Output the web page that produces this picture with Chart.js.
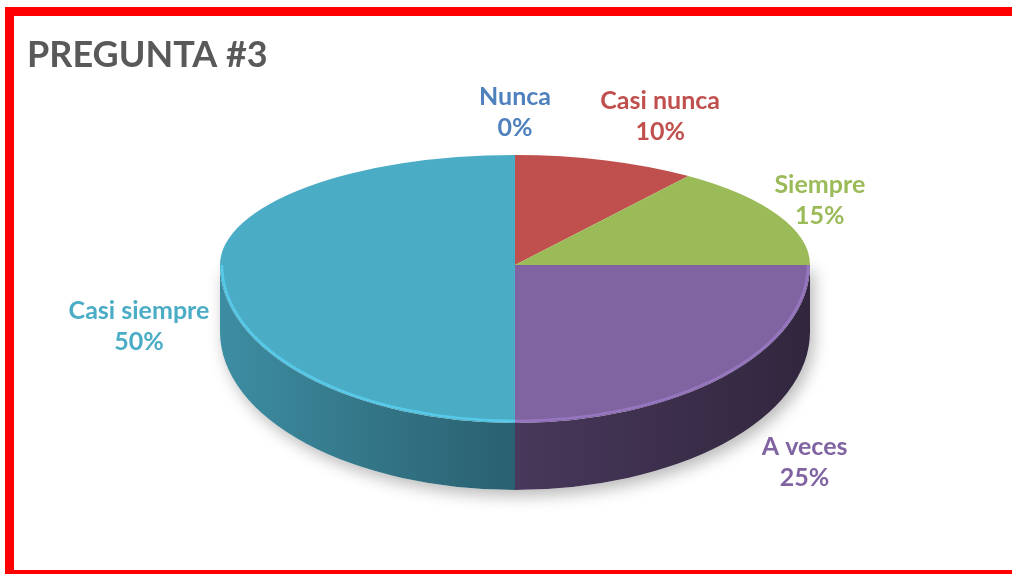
<!DOCTYPE html>
<html>
<head>
<meta charset="utf-8">
<script src="https://cdn.jsdelivr.net/npm/chart.js@4.4.1/dist/chart.umd.min.js"></script>
<style>
  html, body { margin: 0; padding: 0; background: #fff; overflow: hidden; }
  canvas { display: block; }
</style>
</head>
<body>
<canvas id="pregunta3" width="1012" height="574"></canvas>
<script>
const chartTitle = 'PREGUNTA #3';
const categories = ['Nunca', 'Casi nunca', 'Siempre', 'A veces', 'Casi siempre'];
const percentages = [0, 10, 15, 25, 50];
const sliceColors = ['#4F81BD', '#C0504D', '#9BBB59', '#8064A2', '#4BACC6'];

// fake perspective: back half of the top face is flatter than the front half
const TOP = { cx: 515, cy: 265, rx: 295, ryBack: 110, ryFront: 158, depth: 67 };
// Excel pushed the labels around a bit, relative to the rim point at mid-angle
const LABEL_NUDGE = [[0, -43], [54, -44], [42, -15], [81, 85], [-81, 61]];

function shade(hex, f) {
    const n = parseInt(hex.slice(1), 16);
    const r = Math.min(255, Math.round(((n >> 16) & 255) * f));
    const g = Math.min(255, Math.round(((n >> 8) & 255) * f));
    const b = Math.min(255, Math.round((n & 255) * f));
    return `rgb(${r}, ${g}, ${b})`;
}

function rimY(angle) {
    const s = Math.sin(angle);
    return TOP.cy + (s < 0 ? TOP.ryBack : TOP.ryFront) * s;
}

function squash(ctx, arc, ry, clipTop) {
    const { cx, cy, rx } = TOP;
    const r = arc.outerRadius;
    ctx.save();
    ctx.beginPath();
    if (clipTop) {
        ctx.rect(0, 0, 1012, cy);
    } else {
        ctx.rect(0, cy, 1012, 574 - cy);
    }
    ctx.clip();
    ctx.translate(cx, cy);
    ctx.scale(rx / r, ry / r);
    ctx.translate(-arc.x, -arc.y);
}

const pie3d = {
    id: 'pie3d',
    beforeDraw(chart) {
        const ctx = chart.ctx;
        ctx.save();
        ctx.strokeStyle = '#ff0000';
        ctx.lineWidth = 9;
        ctx.strokeRect(9.5, 11.5, 1100, 563);
        ctx.restore();
    },
    beforeDatasetsDraw(chart) {
        const ctx = chart.ctx;
        const arcs = chart.getDatasetMeta(0).data;
        const { cx, cy, rx, ryFront, depth } = TOP;

        // soft shadow under the disc
        ctx.save();
        ctx.shadowColor = 'rgba(0, 0, 0, 0.28)';
        ctx.shadowBlur = 16;
        ctx.shadowOffsetX = 4;
        ctx.shadowOffsetY = 6;
        ctx.fillStyle = '#ffffff';
        ctx.beginPath();
        ctx.ellipse(cx, cy + depth, rx, ryFront, 0, 0, Math.PI);
        ctx.lineTo(cx - rx, cy);
        ctx.lineTo(cx + rx, cy);
        ctx.closePath();
        ctx.fill();
        ctx.restore();

        // front walls, only the part facing us (canvas angles 0..PI)
        arcs.forEach((arc, i) => {
            const a0 = Math.max(arc.startAngle, 0);
            const a1 = Math.min(arc.endAngle, Math.PI);
            if (a1 <= a0) {
                return;
            }
            const base = sliceColors[i];
            const g = ctx.createLinearGradient(cx - rx, 0, cx + rx, 0);
            g.addColorStop(0, shade(base, 0.82));
            g.addColorStop(0.5, shade(base, 0.56));
            g.addColorStop(1, shade(base, 0.38));
            ctx.save();
            ctx.fillStyle = g;
            ctx.beginPath();
            ctx.ellipse(cx, cy, rx, ryFront, 0, a0, a1);
            ctx.lineTo(cx + rx * Math.cos(a1), cy + depth + ryFront * Math.sin(a1));
            ctx.ellipse(cx, cy + depth, rx, ryFront, 0, a1, a0, true);
            ctx.closePath();
            ctx.fill();
            ctx.restore();
        });

        // library draws the back half of the top face here
        squash(ctx, arcs[0], TOP.ryBack, true);
    },
    afterDatasetsDraw(chart) {
        const ctx = chart.ctx;
        ctx.restore();

        const meta = chart.getDatasetMeta(0);
        const arcs = meta.data;
        const { cx, cy, rx, ryFront } = TOP;

        // front half of the top face, same arcs, deeper squash
        squash(ctx, arcs[0], ryFront, false);
        meta.controller.draw();
        ctx.restore();

        // thin bevel highlight along the front rim
        arcs.forEach((arc, i) => {
            const a0 = Math.max(arc.startAngle, 0);
            const a1 = Math.min(arc.endAngle, Math.PI);
            if (a1 <= a0) {
                return;
            }
            ctx.save();
            ctx.strokeStyle = shade(sliceColors[i], 1.25);
            ctx.globalAlpha = 0.7;
            ctx.lineWidth = 2.5;
            ctx.beginPath();
            ctx.ellipse(cx, cy, rx - 2, ryFront - 2, 0, a0, a1);
            ctx.stroke();
            ctx.restore();
        });

        // data labels
        ctx.save();
        ctx.font = 'bold 25px Lato';
        ctx.textAlign = 'center';
        ctx.textBaseline = 'middle';
        arcs.forEach((arc, i) => {
            const mid = (arc.startAngle + arc.endAngle) / 2;
            const x = cx + rx * Math.cos(mid) + LABEL_NUDGE[i][0];
            const y = rimY(mid) + LABEL_NUDGE[i][1];
            ctx.fillStyle = sliceColors[i];
            ctx.fillText(categories[i], x, y - 15);
            ctx.fillText(percentages[i] + '%', x, y + 16);
        });
        ctx.restore();
    },
};

new Chart(document.getElementById('pregunta3'), {
    type: 'pie',
    data: {
        labels: categories,
        datasets: [
            {
                data: percentages,
                backgroundColor: sliceColors,
                borderWidth: 0,
                clip: false,
            },
        ],
    },
    options: {
        responsive: false,
        animation: false,
        events: [],
        layout: {
            padding: { left: 27, right: 20, top: 0, bottom: 20 },
        },
        plugins: {
            legend: { display: false },
            tooltip: { enabled: false },
            title: {
                display: true,
                text: chartTitle,
                align: 'start',
                color: '#595959',
                font: { family: 'Lato', size: 36, weight: 'bold' },
                padding: { top: 34, bottom: 10 },
            },
        },
    },
    plugins: [pie3d],
});
</script>
</body>
</html>
